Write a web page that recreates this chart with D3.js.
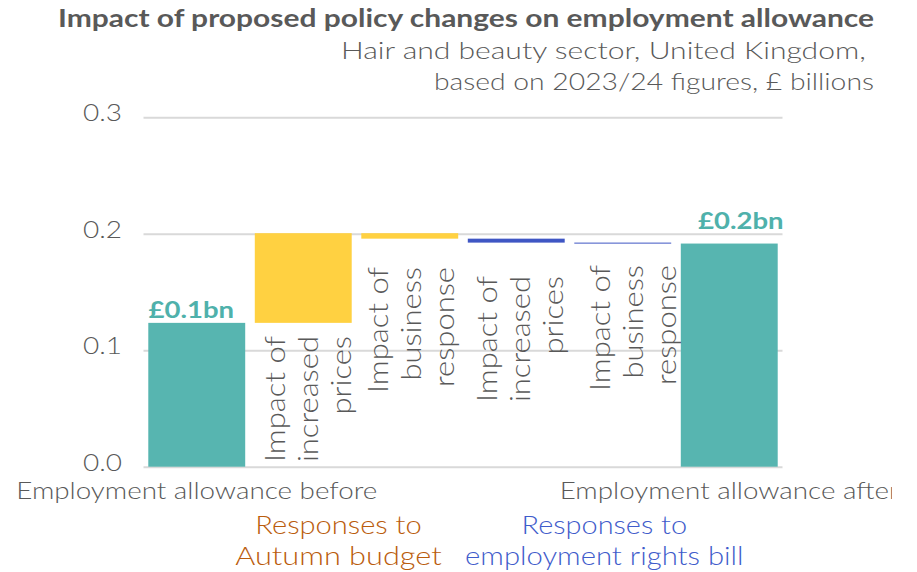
<!DOCTYPE html>
<html>
<head>
<meta charset="utf-8">
<script src="https://cdn.jsdelivr.net/npm/d3@7/dist/d3.min.js"></script>
<style>
  body { margin: 0; background: #fff; }
  svg { display: block; }
  text { font-family: Lato, "Noto Sans", sans-serif; }
  .light { font-weight: 300; }
</style>
</head>
<body>
<svg id="chart" width="917" height="572"></svg>
<script>
// ---- data -------------------------------------------------------------
const categories = [
  "Employment allowance before",
  "Impact of increased prices",
  "Impact of business response",
  "Impact of increased prices",
  "Impact of business response",
  "Employment allowance after"
];
const categoryLines = [
  null,
  ["Impact of", "increased", "prices"],
  ["Impact of", "business", "response"],
  ["Impact of", "increased", "prices"],
  ["Impact of", "business", "response"],
  null
];
const startValue = 0.1235;                      // £ billions
const changes = [0.0770, -0.0047, -0.0034, -0.0008];
const groupNames = [
  ["Responses to", "Autumn budget"],
  ["Responses to", "employment rights bill"]
];
const groupMembers = [[1, 2], [3, 4]];
const yTicks = [0, 0.1, 0.2, 0.3];
const title = "Impact of proposed policy changes on employment allowance";
const subtitle = ["Hair and beauty sector, United Kingdom, ", "based on 2023/24 figures, £ billions"];

// ---- styling / layout -------------------------------------------------
const W = 917, H = 572;
const grey = "#595959";
const teal = "#57B5B0", tealText = "#4FB1AB";
const groupBar = ["#FFD141", "#3F56C4"];
const groupText = ["#BA5C0C", "#3F5CCB"];
// label anchors for the rotated category notes: [dx from band centre, top y]
const noteAnchor = [null, [15, 336], [11, 267], [14, 276], [20, 265], null];
// total value labels: [dx from band centre, gap above bar]
const totalLabelShift = { 0: [-5.5, 4.5], 5: [11.5, 14.5] };
// group label centres and baselines
const groupLabelX = [338.5, 604.3];
const groupLabelY = [534, 565];

const svg = d3.select("#chart");
svg.append("defs").append("clipPath").attr("id", "clip")
  .append("rect").attr("x", 0).attr("y", 0).attr("width", 892).attr("height", H);
const root = svg.append("g").attr("clip-path", "url(#clip)");

const x = d3.scaleBand().domain(d3.range(categories.length))
  .range([143.5, 782.5]).paddingInner(0.09).paddingOuter(0.045);
const y = d3.scaleLinear().domain([0, 0.3]).range([466.7, 117.3]);

// squeeze/stretch a text to a given rendered width
function fitTo(sel, width) {
  sel.attr("textLength", width).attr("lengthAdjust", "spacingAndGlyphs");
}
function scaleText(sel, factor) {
  sel.each(function () {
    const w = this.getComputedTextLength();
    d3.select(this).attr("textLength", w * factor).attr("lengthAdjust", "spacingAndGlyphs");
  });
}

// ---- waterfall rows ---------------------------------------------------
const rows = [];
let running = startValue;
rows.push({ i: 0, lo: 0, hi: startValue, color: teal, total: true, value: startValue });
changes.forEach((c, k) => {
  const i = k + 1;
  const next = running + c;
  const g = groupMembers.findIndex(m => m.includes(i));
  rows.push({ i, lo: Math.min(running, next), hi: Math.max(running, next), color: groupBar[g], total: false, value: c });
  running = next;
});
rows.push({ i: categories.length - 1, lo: 0, hi: running, color: teal, total: true, value: running });

// ---- gridlines + y axis ----------------------------------------------
const yAxis = d3.axisLeft(y).tickValues(yTicks).tickFormat(d3.format(".1f"))
  .tickSize(-(x.range()[1] - x.range()[0])).tickPadding(21.5);
const ax = root.append("g").attr("transform", `translate(${x.range()[0]},0)`).call(yAxis);
ax.select(".domain").remove();
ax.selectAll(".tick line").attr("stroke", "#D9D9D9").attr("stroke-width", 2);
ax.selectAll(".tick text").attr("fill", grey).attr("font-size", 24).attr("dy", "0.15em")
  .attr("class", "light")
  .style("font-family", 'Lato, "Noto Sans", sans-serif')
  .call(fitTo, 39);

// ---- bars --------------------------------------------------------------
root.append("g").selectAll("rect").data(rows).join("rect")
  .attr("x", d => x(d.i))
  .attr("width", x.bandwidth())
  .attr("y", d => y(d.hi))
  .attr("height", d => Math.max(1, y(d.lo) - y(d.hi)))
  .attr("fill", d => d.color);

// ---- total value labels -----------------------------------------------
const fmt = d3.format(".1f");
root.append("g").selectAll("text").data(rows.filter(d => d.total)).join("text")
  .attr("x", d => x(d.i) + x.bandwidth() / 2 + totalLabelShift[d.i][0])
  .attr("y", d => y(d.hi) - totalLabelShift[d.i][1])
  .attr("text-anchor", "middle")
  .attr("font-size", 23).attr("font-weight", 700).attr("fill", tealText)
  .text(d => "£" + fmt(d.value) + "bn")
  .call(fitTo, 85.5);

// ---- rotated notes on the change bars ---------------------------------
const notes = root.append("g");
categoryLines.forEach((lines, i) => {
  if (!lines) return;
  const [dx, top] = noteAnchor[i];
  const cx = x(i) + x.bandwidth() / 2 + dx;
  const g = notes.append("g").attr("transform", `translate(${cx},${top}) rotate(-90)`);
  lines.forEach((t, k) => {
    g.append("text").attr("x", 0).attr("y", (k - 1) * 33)
      .attr("text-anchor", "end").attr("font-size", 27).attr("class", "light")
      .attr("fill", grey).text(t);
  });
});
// common stretch so that "Impact of" spans its measured width
const refNote = notes.select("text").node().getComputedTextLength();
scaleText(notes.selectAll("text"), 126 / refNote);

// ---- total category labels --------------------------------------------
[0, categories.length - 1].forEach(i => {
  root.append("text")
    .attr("x", x(i) + x.bandwidth() / 2).attr("y", 499)
    .attr("text-anchor", "middle").attr("font-size", 24).attr("class", "light").attr("fill", grey)
    .text(categories[i]).call(fitTo, i === 0 ? 361 : 339);
});

// ---- group labels -------------------------------------------------------
const groupWidths = [[166.5, 206.5], [165.5, 278.5]];
groupNames.forEach((lines, g) => {
  lines.forEach((t, k) => {
    root.append("text").attr("x", groupLabelX[g]).attr("y", groupLabelY[k])
      .attr("text-anchor", "middle").attr("font-size", 25).attr("class", "light")
      .attr("fill", groupText[g])
      .text(t).call(fitTo, groupWidths[g][k]);
  });
});

// ---- title ---------------------------------------------------------------
root.append("text").attr("x", 874).attr("y", 27).attr("text-anchor", "end")
  .attr("font-size", 25).attr("font-weight", 700).attr("fill", grey)
  .text(title).call(fitTo, 816);
const subWidths = [533, 440];
subtitle.forEach((t, k) => {
  root.append("text").attr("x", 874).attr("y", 59 + k * 31).attr("text-anchor", "end")
    .attr("font-size", 24).attr("class", "light").attr("fill", grey)
    .attr("xml:space", "preserve").style("white-space", "pre")
    .text(t).call(fitTo, subWidths[k]);
});
</script>
</body>
</html>
